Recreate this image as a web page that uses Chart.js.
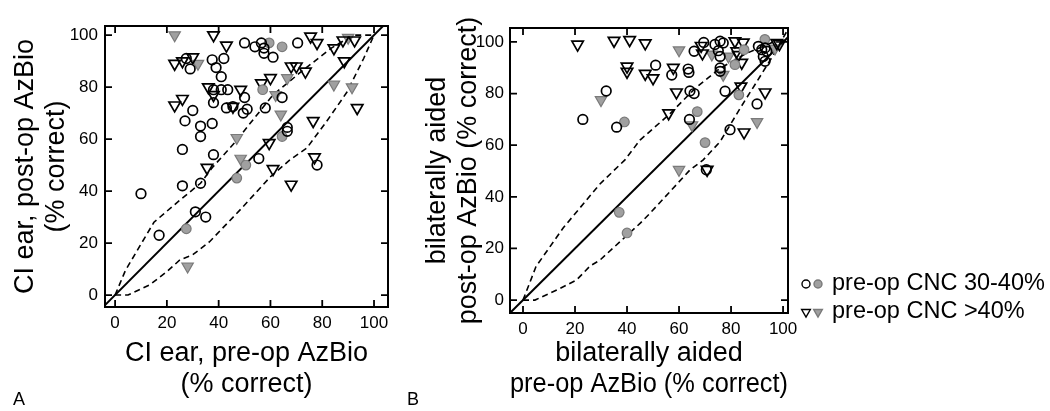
<!DOCTYPE html>
<html>
<head>
<meta charset="utf-8">
<script src="https://cdn.jsdelivr.net/npm/chart.js@4.4.0/dist/chart.umd.min.js"></script>
<style>
body{margin:0;background:#fff;width:1050px;height:411px;overflow:hidden;position:relative;font-family:"Liberation Sans",Arial,sans-serif}
canvas{position:absolute;top:0}
#cA{left:0}
#cB{left:400px}
.panel{position:absolute;font-size:18px;color:#000}
</style>
</head>
<body>
<canvas id="cA" width="400" height="411"></canvas>
<canvas id="cB" width="650" height="411"></canvas>
<div class="panel" style="left:13px;top:389px">A</div>
<div class="panel" style="left:407px;top:389px">B</div>
<script>
// tick values, same for both panels and both axes
var tickVals = [0, 20, 40, 60, 80, 100];

// panel A : CI ear, pre-op (x) vs post-op (y)
var aOpenCircle = [[50,97],[27.5,91],[29,87],[37.5,90.5],[42,91],[39,87.5],[41,84],[38,79],[41,79],[43.5,79],[50,76],[38,74],[43,72],[45.5,72.5],[49.5,70],[51,71.5],[30,71],[27,67],[33,65],[37.5,66],[33,61],[26,56],[38,54],[54,95.5],[56.5,97],[57.5,95],[57.5,93],[61,91.5],[70.5,97],[64.5,76],[58,72],[66.5,64.5],[66.5,63],[55.5,52.5],[78,50],[10,39],[26,42],[33,43],[31,32],[35,30],[17,23]];
var aGrayCircle = [[59.5,97],[64.5,95.5],[57,79],[64.5,61],[27.5,25.5],[47,45],[50.5,50]];
var aOpenTri = [[38,100],[43,96],[23,89],[26,90],[30,91.5],[36,80],[38,77],[48.5,79],[45.5,72.5],[23,73],[26,75.5],[35.5,49],[75.5,99.5],[78,97],[88,98],[92.5,98],[84.5,95],[68,88],[70,88],[73.5,86],[88.5,90],[60,83.5],[56.5,81.5],[93.5,72],[76.5,67],[59.5,58.5],[77,53],[61,48.5],[68,42.5]];
var aGrayTri = [[23,100],[32,89],[47,60.5],[48.5,52.5],[90,99],[66.5,83.5],[84.5,81],[91.5,80],[62,77],[64,69.5],[28,11]];
var aUpper = [[0,0],[4,9.5],[15,28],[25,36.5],[33,43],[37.5,49],[47,59.5],[48.5,61.5],[61,77],[72,86],[83.5,95],[92,100],[100,100]];
var aLower = [[0,0],[5,0],[13.5,4],[20,9],[25,13.5],[30,15.5],[36.5,20.5],[48.5,33],[60,45.5],[67.5,52],[74,56.5],[81.5,66.5],[89.5,78],[96,91],[100,100]];

// panel B : bilaterally aided, pre-op (x) vs post-op (y)
var bOpenCircle = [[32,81],[23,70],[36,67],[65.8,96.4],[69.5,99.8],[73.8,99],[75.8,100.3],[77,99.6],[75.1,96.6],[75.8,94.4],[90.5,98.3],[91.8,97],[93.1,97.7],[93.7,96.4],[92.4,94.4],[93.1,92.5],[75.8,89.9],[75.8,88.6],[51,91],[57.2,87.2],[63.5,89.5],[63.8,88.2],[64.2,81],[65.8,80],[77.7,80.9],[90,76],[64,70],[79.6,66],[70.5,50.5]];
var bGrayCircle = [[39,69],[85,97],[93,101],[81.5,91.2],[83,79.5],[67,73],[70,61],[37,34],[40,26]];
var bOpenTri = [[21,99],[35,100.5],[41,100.8],[47,99.5],[40,90.5],[40,88.5],[47,87.7],[50,86],[57.8,90],[59,80.5],[68.5,98.5],[69,95.6],[81.5,100.3],[84.7,99.8],[82.2,96.4],[82.8,95],[84.1,92],[97.6,99.6],[98.6,99.2],[83.8,82.8],[93.1,80.5],[56,72.4],[85,65],[70.8,50.5]];
var bGrayTri = [[30,77.5],[60,96.8],[72.6,95.2],[79,94.4],[96.9,97.5],[77,87.3],[65,67.8],[90,69],[60,50.5]];
var bUpper = [[0,0],[5,13],[15.5,28],[29.6,45],[39.2,54.3],[45,62],[56,71.7],[66.2,82],[75.8,89.8],[86,95.6],[96.3,100],[100,100]];
var bLower = [[0,0],[4.6,0],[14.2,4.5],[20.6,7.8],[25.8,13.2],[29.6,15.5],[45,29.7],[48.8,33.6],[64.2,50.4],[69.3,54.3],[75.8,61.4],[83.5,74.3],[89.9,84.6],[96.3,95],[101.4,104]];

var identity = [[-10,-10],[110,110]];

var legendLabels = ['pre-op CNC 30-40%', 'pre-op CNC >40%'];

var fam = '"Liberation Sans", Arial, sans-serif';
var grayFill = '#a0a0a0';
var grayLine = '#7a7a7a';

function pts(a){
    return a.map(function(p){ return {x:p[0], y:p[1]}; });
}

function datasets(oc, gc, ot, gt, up, lo){
    return [
        {data:pts(oc), pointStyle:'circle', pointRadius:4.8, backgroundColor:'rgba(0,0,0,0)', borderColor:'#000', borderWidth:1.7},
        {data:pts(gc), pointStyle:'circle', pointRadius:4.8, backgroundColor:grayFill, borderColor:grayLine, borderWidth:1.2},
        {data:pts(ot), pointStyle:'triangle', rotation:180, pointRadius:6.6, backgroundColor:'rgba(0,0,0,0)', borderColor:'#000', borderWidth:1.7},
        {data:pts(gt), pointStyle:'triangle', rotation:180, pointRadius:6.6, backgroundColor:grayFill, borderColor:grayLine, borderWidth:1.2},
        {data:pts(identity), showLine:true, pointRadius:0, borderColor:'#000', borderWidth:2},
        {data:pts(up), showLine:true, pointRadius:0, borderColor:'#000', borderWidth:1.6, borderDash:[6,4]},
        {data:pts(lo), showLine:true, pointRadius:0, borderColor:'#000', borderWidth:1.6, borderDash:[6,4]}
    ];
}

// box round the plot and inward ticks on all four sides
var frame = {
    id:'frame',
    afterDraw:function(chart){
        var ctx = chart.ctx, a = chart.chartArea, x = chart.scales.x, y = chart.scales.y;
        ctx.save();
        ctx.strokeStyle = '#000';
        ctx.lineWidth = 2;
        ctx.strokeRect(a.left, a.top, a.right - a.left, a.bottom - a.top);
        ctx.lineWidth = 1.8;
        ctx.beginPath();
        x.ticks.forEach(function(t){
            var p = x.getPixelForValue(t.value);
            ctx.moveTo(p, a.bottom); ctx.lineTo(p, a.bottom - 7);
            ctx.moveTo(p, a.top); ctx.lineTo(p, a.top + 7);
        });
        y.ticks.forEach(function(t){
            var p = y.getPixelForValue(t.value);
            ctx.moveTo(a.left, p); ctx.lineTo(a.left + 7, p);
            ctx.moveTo(a.right, p); ctx.lineTo(a.right - 7, p);
        });
        ctx.stroke();
        ctx.restore();
    }
};

// legend to the right of panel B (two symbols per row)
var sideLegend = {
    id:'sideLegend',
    afterDraw:function(chart){
        var ctx = chart.ctx;
        var rows = [284, 312];
        ctx.save();
        ctx.lineWidth = 1.4;
        // row 1 : circles
        ctx.strokeStyle = '#000';
        ctx.beginPath(); ctx.arc(406, rows[0], 4, 0, Math.PI*2); ctx.stroke();
        ctx.fillStyle = grayFill; ctx.strokeStyle = grayLine;
        ctx.beginPath(); ctx.arc(418, rows[0], 4, 0, Math.PI*2); ctx.fill(); ctx.stroke();
        // row 2 : down triangles
        function tri(cx, cy, r){
            ctx.beginPath();
            ctx.moveTo(cx - r*0.87, cy - r*0.5);
            ctx.lineTo(cx + r*0.87, cy - r*0.5);
            ctx.lineTo(cx, cy + r);
            ctx.closePath();
        }
        ctx.strokeStyle = '#000';
        tri(406, rows[1], 5); ctx.stroke();
        ctx.strokeStyle = grayLine;
        tri(418, rows[1], 5); ctx.fill(); ctx.stroke();
        ctx.fillStyle = '#000';
        ctx.font = '23.5px ' + fam;
        ctx.textBaseline = 'middle';
        ctx.fillText(legendLabels[0], 432, rows[0]);
        ctx.fillText(legendLabels[1], 432, rows[1]);
        ctx.restore();
    }
};

function axis(min, max, size, isX, title, tpad, lpad){
    return {
        type:'linear', min:min, max:max,
        afterBuildTicks:function(s){ s.ticks = tickVals.map(function(v){ return {value:v}; }); },
        afterFit:function(s){ if (isX) s.height = size; else s.width = size; },
        grid:{display:false, drawTicks:false},
        border:{display:false},
        ticks:{color:'#000', padding:lpad, maxRotation:0, font:{size:17, family:fam}},
        title:{display:true, text:title, color:'#000', padding:tpad, font:{size:27, family:fam, lineHeight:1.15}}
    };
}

new Chart(document.getElementById('cA'), {
    type:'scatter',
    data:{datasets:datasets(aOpenCircle, aGrayCircle, aOpenTri, aGrayTri, aUpper, aLower)},
    options:{
        responsive:false, animation:false, devicePixelRatio:1,
        layout:{padding:{left:0, right:12, top:26, bottom:0}},
        plugins:{legend:{display:false}, tooltip:{enabled:false}},
        scales:{
            x:axis(-3.9, 105.4, 104, true, ['CI ear, pre-op AzBio', '(% correct)'], {top:0, bottom:11}, 6),
            y:axis(-4.6, 103.5, 105, false, ['CI ear, post-op AzBio', '(% correct)'], {top:10, bottom:0}, 7)
        }
    },
    plugins:[frame]
});

new Chart(document.getElementById('cB'), {
    type:'scatter',
    data:{datasets:datasets(bOpenCircle, bGrayCircle, bOpenTri, bGrayTri, bUpper, bLower)},
    options:{
        responsive:false, animation:false, devicePixelRatio:1,
        layout:{padding:{left:0, right:262, top:28, bottom:0}},
        plugins:{legend:{display:false}, tooltip:{enabled:false}},
        scales:{
            x:axis(-5, 101.9, 98, true, ['bilaterally aided', 'pre-op AzBio (% correct)'], {top:0, bottom:11}, 6),
            y:axis(-5, 105.4, 110, false, ['bilaterally aided', 'post-op AzBio (% correct)'], {top:22, bottom:0}, 6)
        }
    },
    plugins:[frame, sideLegend]
});
</script>
</body>
</html>
